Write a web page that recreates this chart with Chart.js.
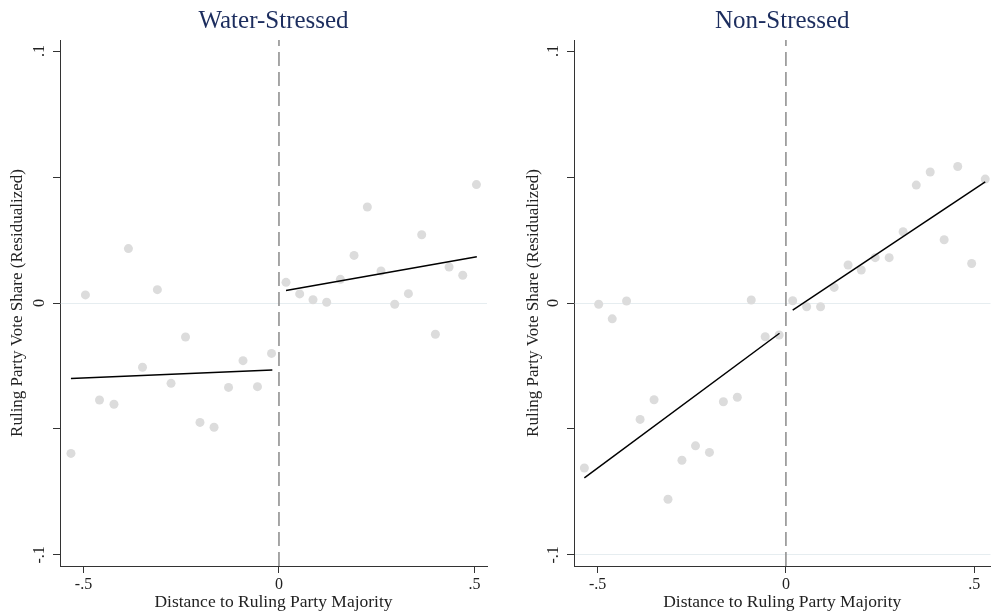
<!DOCTYPE html>
<html>
<head>
<meta charset="utf-8">
<script src="https://cdn.jsdelivr.net/npm/chart.js@4/dist/chart.umd.min.js"></script>
<style>
  html, body { margin: 0; padding: 0; background: #fff; }
  .panel { position: absolute; top: 0; height: 615px; }
  #left { left: 0; width: 497px; }
  #right { left: 497px; width: 498px; }
</style>
</head>
<body>
<div class="panel" id="left"><canvas id="waterChart"></canvas></div>
<div class="panel" id="right"><canvas id="nonChart"></canvas></div>
<script>
// Binned scatter, water-stressed districts
const waterX = [-0.532, -0.495, -0.459, -0.422, -0.385, -0.349, -0.311, -0.276, -0.239, -0.202, -0.166, -0.129, -0.092, -0.055, -0.019,
                0.018, 0.053, 0.087, 0.122, 0.157, 0.192, 0.226, 0.261, 0.296, 0.331, 0.365, 0.400, 0.435, 0.470, 0.505];
const waterY = [-0.0597, 0.0032, -0.0385, -0.0402, 0.0216, -0.0255, 0.0053, -0.0319, -0.0135, -0.0474, -0.0493, -0.0335, -0.0229, -0.0332, -0.0200,
                0.0082, 0.0036, 0.0013, 0.0003, 0.0094, 0.0189, 0.0381, 0.0127, -0.0005, 0.0037, 0.0271, -0.0124, 0.0143, 0.0110, 0.0470];
// Linear fits either side of the cutoff
const waterFitLeftX = [-0.532, -0.017];
const waterFitLeftY = [-0.0300, -0.0266];
const waterFitRightX = [0.018, 0.506];
const waterFitRightY = [0.0050, 0.0184];

// Binned scatter, non-stressed districts
const nonX = [-0.535, -0.497, -0.461, -0.423, -0.387, -0.350, -0.313, -0.276, -0.240, -0.203, -0.166, -0.129, -0.092, -0.055, -0.018,
              0.018, 0.055, 0.092, 0.128, 0.165, 0.200, 0.237, 0.274, 0.311, 0.346, 0.383, 0.420, 0.456, 0.493, 0.529];
const nonY = [-0.0655, -0.0005, -0.0063, 0.0008, -0.0462, -0.0384, -0.0779, -0.0624, -0.0567, -0.0593, -0.0392, -0.0374, 0.0012, -0.0134, -0.0127,
              0.0009, -0.0015, -0.0015, 0.0062, 0.0151, 0.0131, 0.0180, 0.0180, 0.0283, 0.0468, 0.0520, 0.0251, 0.0542, 0.0157, 0.0492];
const nonFitLeftX = [-0.535, -0.017];
const nonFitLeftY = [-0.0694, -0.0120];
const nonFitRightX = [0.018, 0.529];
const nonFitRightY = [-0.0028, 0.0481];

// Axis ticks
const xTicks = [-0.5, 0, 0.5];
const xTickLabels = ['-.5', '0', '.5'];
const yTicks = [-0.1, -0.05, 0, 0.05, 0.1];
const yLabelTicks = [-0.1, 0, 0.1];
const yTickLabels = ['-.1', '0', '.1'];

const yMin = -0.1044, yMax = 0.1044;
const serif = '"Liberation Serif", "Times New Roman", serif';

Chart.defaults.font.family = serif;
Chart.defaults.color = '#222';

function pts(xs, ys) {
    return xs.map((x, i) => ({ x: x, y: ys[i] }));
}

// Rotated y tick labels (Chart.js only rotates horizontal-axis labels)
const yLabelPlugin = {
    id: 'yLabels',
    afterDraw(chart) {
        const c = chart.ctx;
        const ys = chart.scales.y;
        c.save();
        c.font = '16px ' + serif;
        c.fillStyle = '#222';
        c.textAlign = 'center';
        c.textBaseline = 'middle';
        yLabelTicks.forEach((v, i) => {
            const py = ys.getPixelForValue(v);
            c.save();
            c.translate(ys.right - 20, py);
            c.rotate(-Math.PI / 2);
            c.fillText(yTickLabels[i], 0, 0);
            c.restore();
        });
        c.restore();
    }
};

// Panel title, centred over the plot area rather than the whole canvas
const panelTitlePlugin = {
    id: 'panelTitle',
    afterDraw(chart, args, opts) {
        const c = chart.ctx;
        const area = chart.chartArea;
        c.save();
        c.font = '25px ' + serif;
        c.fillStyle = '#1c2d5e';
        c.textAlign = 'center';
        c.textBaseline = 'middle';
        c.fillText(opts.text, (area.left + area.right) / 2, 21.5);
        c.restore();
    }
};

function createChart(id, title, data, fitL, fitR, xMin, xMax, padLeft, padRight, yWidth, gridAt) {
    const ctx = document.getElementById(id).getContext('2d');
    return new Chart(ctx, {
        type: 'scatter',
        data: {
            datasets: [
                { data: pts(fitL[0], fitL[1]), showLine: true, pointRadius: 0, borderColor: '#000', borderWidth: 1.5, order: 0 },
                { data: pts(fitR[0], fitR[1]), showLine: true, pointRadius: 0, borderColor: '#000', borderWidth: 1.5, order: 0 },
                { data: data, pointRadius: 4.5, pointBackgroundColor: '#dcdcdc', pointBorderWidth: 0, order: 1 },
                { data: [{ x: 0, y: yMin }, { x: 0, y: yMax }], showLine: true, pointRadius: 0,
                  borderColor: '#8a8a8a', borderWidth: 1.5, borderDash: [14, 6], order: 2 }
            ]
        },
        options: {
            responsive: true,
            maintainAspectRatio: false,
            animation: false,
            layout: { padding: { left: padLeft, right: padRight, top: 40, bottom: 2 } },
            plugins: {
                legend: { display: false },
                tooltip: { enabled: false },
                title: { display: false },
                panelTitle: { text: title }
            },
            scales: {
                x: {
                    min: xMin, max: xMax,
                    afterBuildTicks: s => { s.ticks = xTicks.map(v => ({ value: v })); },
                    afterFit: s => { s.height = 47; },
                    ticks: {
                        font: { size: 16 },
                        padding: 2,
                        maxRotation: 0,
                        callback: v => xTickLabels[xTicks.indexOf(v)]
                    },
                    grid: { drawOnChartArea: false, tickColor: '#333', tickLength: 7 },
                    border: { color: '#333', width: 1 },
                    title: { display: true, text: 'Distance to Ruling Party Majority', font: { size: 17.5 }, padding: 0 }
                },
                y: {
                    min: yMin, max: yMax,
                    afterBuildTicks: s => { s.ticks = yTicks.map(v => ({ value: v })); },
                    afterFit: s => { s.width = yWidth; },
                    ticks: { display: false },
                    grid: {
                        color: c => (c.tick && gridAt.includes(c.tick.value)) ? '#e6edf0' : 'rgba(0,0,0,0)',
                        tickColor: '#333',
                        tickLength: 7
                    },
                    border: { color: '#333', width: 1 },
                    title: { display: true, text: 'Ruling Party Vote Share (Residualized)', font: { size: 17 }, padding: 0 }
                }
            }
        },
        plugins: [yLabelPlugin, panelTitlePlugin]
    });
}

const waterChart = createChart('waterChart', 'Water-Stressed', pts(waterX, waterY),
    [waterFitLeftX, waterFitLeftY], [waterFitRightX, waterFitRightY],
    -0.56, 0.532, 7, 10, 53, [0]);

const nonChart = createChart('nonChart', 'Non-Stressed', pts(nonX, nonY),
    [nonFitLeftX, nonFitLeftY], [nonFitRightX, nonFitRightY],
    -0.5625, 0.543, 26, 0, 51, [0, -0.1]);
</script>
</body>
</html>
